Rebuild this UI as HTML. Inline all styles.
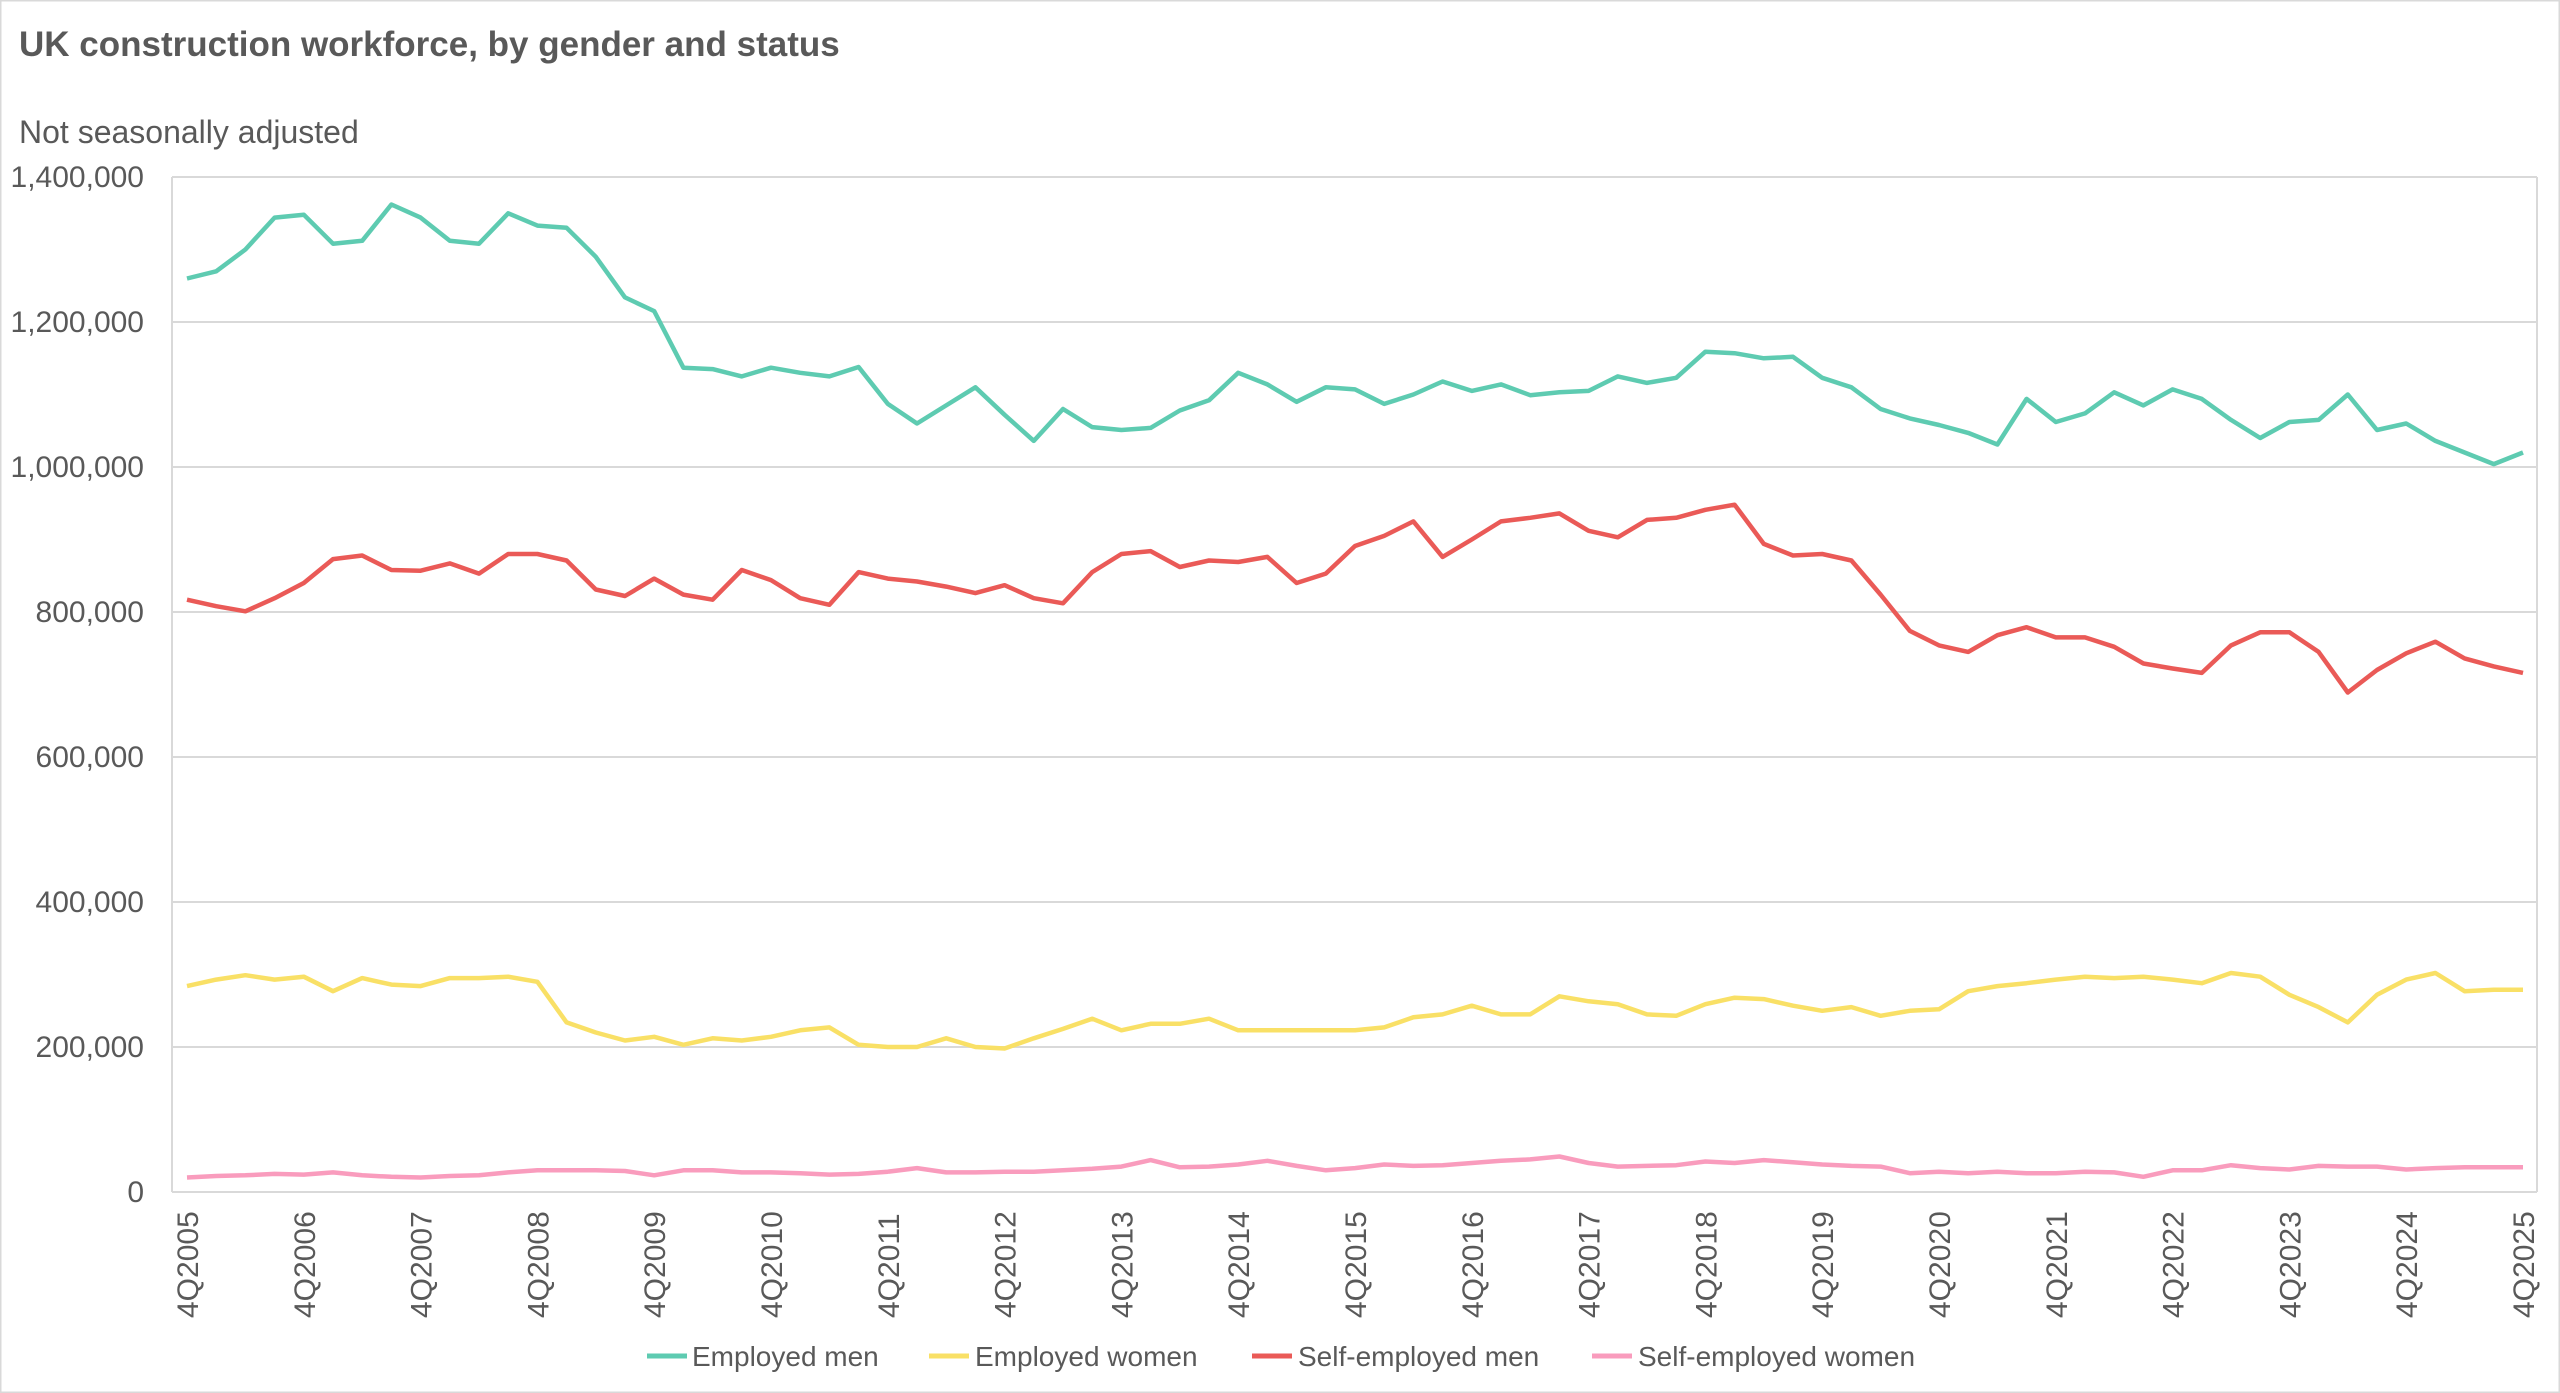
<!DOCTYPE html>
<html><head><meta charset="utf-8"><style>
html,body{margin:0;padding:0;background:#fff;}
svg{display:block;font-family:"Liberation Sans",sans-serif;}
</style></head><body>
<svg id="c" width="2560" height="1393" viewBox="0 0 2560 1393" xmlns="http://www.w3.org/2000/svg">
<rect x="0.5" y="0.5" width="2559" height="1392" fill="#fff" stroke="#d9d9d9" stroke-width="2"/>
<text x="19" y="56" font-size="35" font-weight="bold" fill="#595959">UK construction workforce, by gender and status</text>
<text x="19" y="143" font-size="32" fill="#595959">Not seasonally adjusted</text>
<g id="grid"></g>
<g id="lines"></g>
<g id="legend" font-size="28" fill="#595959">
<line x1="647" y1="1356" x2="687" y2="1356" stroke="#5ecbb1" stroke-width="5"/>
<text x="692" y="1366">Employed men</text>
<line x1="929" y1="1356" x2="969" y2="1356" stroke="#f9e066" stroke-width="5"/>
<text x="975" y="1366">Employed women</text>
<line x1="1252" y1="1356" x2="1292" y2="1356" stroke="#ea5a57" stroke-width="5"/>
<text x="1298" y="1366">Self-employed men</text>
<line x1="1592" y1="1356" x2="1632" y2="1356" stroke="#f99cbd" stroke-width="5"/>
<text x="1638" y="1366">Self-employed women</text>
</g>
</svg>
<script>
var NS="http://www.w3.org/2000/svg";
function el(t,a,txt){var e=document.createElementNS(NS,t);for(var k in a)e.setAttribute(k,a[k]);if(txt!==undefined)e.textContent=txt;return e;}
var X=function(i){return 187+i*29.2;};
var Y=function(v){return 1192-v*1015/1400;};
var g=document.getElementById('grid');
for(var v=0;v<=1400;v+=200){
 var y=Y(v);
 if(v>0)g.appendChild(el('line',{x1:172,x2:2537,y1:y,y2:y,stroke:'#d9d9d9','stroke-width':2}));
 var lab=v==0?'0':(v>=1000?('1,'+String(v-1000).padStart(3,'0')+',000'):(v+',000'));
 g.appendChild(el('text',{x:144,y:y+10,'font-size':30,fill:'#595959','text-anchor':'end'},lab));
}
g.appendChild(el('line',{x1:172,x2:172,y1:177,y2:1192,stroke:'#d9d9d9','stroke-width':2}));
g.appendChild(el('line',{x1:2537,x2:2537,y1:177,y2:1192,stroke:'#d9d9d9','stroke-width':2}));
g.appendChild(el('line',{x1:172,x2:2537,y1:1192,y2:1192,stroke:'#d9d9d9','stroke-width':2}));
for(var yr=2005;yr<=2025;yr++){
 var i=(yr-2005)*4, x=X(i)+11;
 g.appendChild(el('text',{x:0,y:0,'font-size':30,fill:'#595959',transform:'translate('+x+',1318) rotate(-90)'},'4Q'+yr));
}
var em=[1260,1270,1300,1344,1348,1308,1312,1362,1344,1312,1308,1350,1333,1330,1290,1234,1215,1137,1135,1125,1137,1130,1125,1138,1087,1060,1085,1110,1072,1036,1080,1055,1051,1054,1078,1092,1130,1114,1090,1110,1107,1087,1100,1118,1105,1114,1099,1103,1105,1125,1116,1123,1159,1157,1150,1152,1123,1110,1080,1067,1058,1047,1031,1094,1062,1074,1103,1085,1107,1094,1065,1040,1062,1065,1100,1051,1060,1036,1020,1004,1020];
var sm=[817,808,801,819,840,873,878,858,857,867,853,880,880,871,831,822,846,824,817,858,844,819,810,855,846,842,835,826,837,819,812,855,880,884,862,871,869,876,840,853,891,905,925,876,900,925,930,936,912,903,927,930,941,948,894,878,880,871,824,774,754,745,768,779,765,765,752,729,722,716,754,772,772,745,689,720,743,759,736,725,716];
var ew=[284,293,299,293,297,277,295,286,284,295,295,297,290,234,220,209,214,203,212,209,214,223,227,203,200,200,212,200,198,212,225,239,223,232,232,239,223,223,223,223,223,227,241,245,257,245,245,270,263,259,245,243,259,268,266,257,250,255,243,250,252,277,284,288,293,297,295,297,293,288,302,297,272,255,234,272,293,302,277,279,279];
var sw=[20,22,23,25,24,27,23,21,20,22,23,27,30,30,30,29,23,30,30,27,27,26,24,25,28,33,27,27,28,28,30,32,35,44,34,35,38,43,36,30,33,38,36,37,40,43,45,49,40,35,36,37,42,40,44,41,38,36,35,26,28,26,28,26,26,28,27,21,30,30,37,33,31,36,35,35,31,33,34,34,34];
var L=document.getElementById('lines');
[[em,'#5ecbb1'],[sm,'#ea5a57'],[ew,'#f9e066'],[sw,'#f99cbd']].forEach(function(s){
 var p=s[0].map(function(v,i){return X(i).toFixed(1)+','+Y(v).toFixed(1);}).join(' ');
 L.appendChild(el('polyline',{points:p,fill:'none',stroke:s[1],'stroke-width':4.5,'stroke-linejoin':'round'}));
});
</script>
</body></html>
